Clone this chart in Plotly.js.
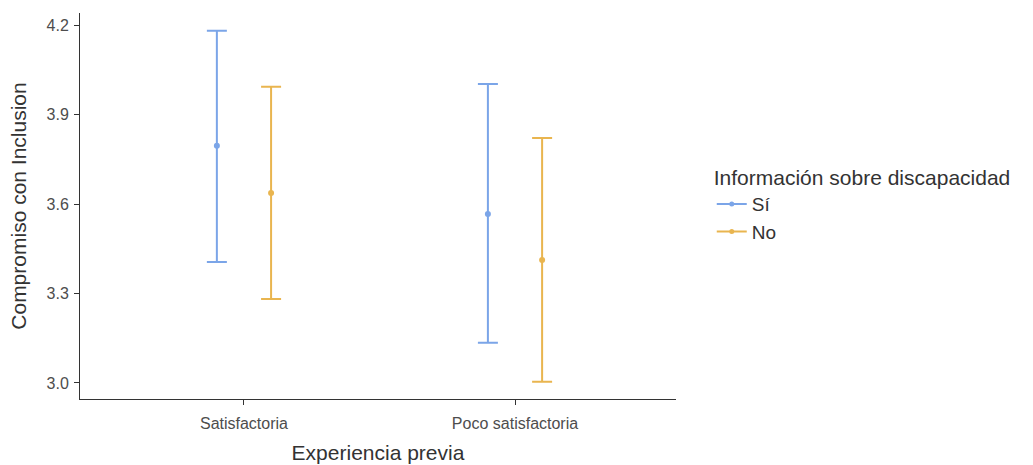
<!DOCTYPE html>
<html><head><meta charset="utf-8">
<script src="https://cdn.plot.ly/plotly-3.0.1.min.js"></script>
<style>body{margin:0;padding:0;background:#fff}#chart{width:1033px;height:465px}</style>
</head><body><div id="chart"></div>
<script>
var categories = ["Satisfactoria", "Poco satisfactoria"];
var groups = ["Sí", "No"];
var meanSi = [3.796, 3.567];
var lowSi = [3.406, 3.135];
var highSi = [4.182, 4.004];
var meanNo = [3.638, 3.413];
var lowNo = [3.282, 3.004];
var highNo = [3.994, 3.822];
var colors = ["#7BA5E8", "#E9B54F"];

var dodge = [-0.1, 0.1];
var series = [
  {mean: meanSi, low: lowSi, high: highSi},
  {mean: meanNo, low: lowNo, high: highNo}
];
var traces = [];
series.forEach(function(s, g){
  var xs = categories.map(function(c, i){ return i + dodge[g]; });
  traces.push({
    type: 'scatter', mode: 'markers', x: xs, y: s.mean,
    showlegend: false, hoverinfo: 'skip',
    marker: {color: colors[g], size: 6},
    error_y: {type: 'data', symmetric: false,
      array: s.high.map(function(h, i){ return h - s.mean[i]; }),
      arrayminus: s.low.map(function(l, i){ return s.mean[i] - l; }),
      color: colors[g], thickness: 2, width: 10}
  });
});
groups.forEach(function(name, g){
  traces.push({type: 'scatter', mode: 'lines+markers', x: [null], y: [null], name: name,
    line: {color: colors[g], width: 2}, marker: {color: colors[g], size: 5}});
});

var font = "Arial, 'Liberation Sans', sans-serif";
var layout = {
  width: 1033, height: 465,
  margin: {l: 80, r: 357, t: 13, b: 66},
  paper_bgcolor: '#fff', plot_bgcolor: '#fff',
  font: {family: font, color: '#4d4d4d'},
  xaxis: {
    range: [-0.605, 1.594], tickvals: [0, 1], ticktext: categories,
    showgrid: false, zeroline: false, showline: true, linecolor: '#333', linewidth: 1,
    ticks: 'outside', ticklen: 5, tickcolor: '#333', ticklabelstandoff: 5,
    tickfont: {size: 16, color: '#4d4d4d', family: font},
    title: {text: 'Experiencia previa', font: {size: 21, color: '#333', family: font}, standoff: 14}
  },
  yaxis: {
    range: [2.946, 4.242], tickvals: [3.0, 3.3, 3.6, 3.9, 4.2],
    ticktext: ['3.0', '3.3', '3.6', '3.9', '4.2'],
    showgrid: false, zeroline: false, showline: true, linecolor: '#333', linewidth: 1,
    ticks: 'outside', ticklen: 5, tickcolor: '#333', ticklabelstandoff: 2,
    tickfont: {size: 16, color: '#4d4d4d', family: font},
    title: {text: 'Compromiso con Inclusion', font: {size: 21, color: '#333', family: font}, standoff: 14}
  },
  legend: {
    x: 1.06, y: 0.625, xanchor: 'left', yanchor: 'top',
    title: {text: 'Información sobre discapacidad', font: {size: 21, color: '#333', family: font}},
    font: {size: 19, color: '#333', family: font},
    bgcolor: 'rgba(0,0,0,0)', tracegroupgap: 0, itemwidth: 30
  }
};
Plotly.newPlot('chart', traces, layout, {displayModeBar: false, staticPlot: true});
</script></body></html>
